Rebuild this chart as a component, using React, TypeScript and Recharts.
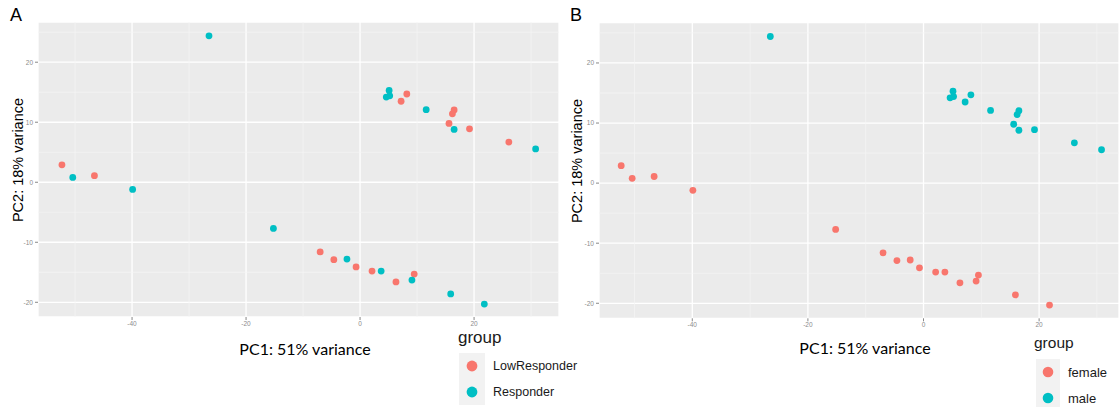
import React from 'react';
import { ScatterChart, Scatter, XAxis, YAxis, CartesianGrid, ReferenceLine } from 'recharts';

// PCA coordinates per sample
const pc1 = [-26.5, -52.3, -50.4, -46.6, -39.9, -15.2, -7.0, -4.6, -2.3, -0.7, 2.1, 3.7, 6.3, 9.1, 9.5, 15.9, 21.8, 5.1, 5.2, 4.6, 8.2, 7.2, 11.6, 16.5, 16.2, 15.6, 16.5, 19.2, 26.1, 30.8];
const pc2 = [24.4, 2.9, 0.8, 1.1, -1.2, -7.7, -11.6, -12.9, -12.8, -14.1, -14.8, -14.8, -16.6, -16.3, -15.3, -18.6, -20.3, 15.3, 14.4, 14.2, 14.7, 13.5, 12.1, 12.05, 11.4, 9.8, 8.8, 8.9, 6.7, 5.55];
const response = ['Responder', 'LowResponder', 'Responder', 'LowResponder', 'Responder', 'Responder', 'LowResponder', 'LowResponder', 'Responder', 'LowResponder', 'LowResponder', 'Responder', 'LowResponder', 'Responder', 'LowResponder', 'Responder', 'Responder', 'Responder', 'Responder', 'Responder', 'LowResponder', 'LowResponder', 'Responder', 'LowResponder', 'LowResponder', 'LowResponder', 'Responder', 'LowResponder', 'LowResponder', 'Responder'];
const sex = ['male', 'female', 'female', 'female', 'female', 'female', 'female', 'female', 'female', 'female', 'female', 'female', 'female', 'female', 'female', 'female', 'female', 'male', 'male', 'male', 'male', 'male', 'male', 'male', 'male', 'male', 'male', 'male', 'male', 'male'];

const responseLevels = ['LowResponder', 'Responder'];
const sexLevels = ['female', 'male'];
const groupColors = ['#F8766D', '#00BFC4'];

const xTicks = [-40, -20, 0, 20];
const yTicks = [-20, -10, 0, 10, 20];
const xMinor = [-50, -30, -10, 10, 30];
const yMinor = [-15, -5, 5, 15, 25];

const xLabel = 'PC1: 51% variance';
const yLabel = 'PC2: 18% variance';
const legendTitle = 'group';
const panelLetters = ['A', 'B'];

const tickStyle = { fontSize: 6.5, fill: '#8C8C8C', fontFamily: '"Liberation Sans", Arial, sans-serif' };

type PanelProps = {
  left: number;
  width: number;
  margin: { top: number; right: number; bottom: number; left: number };
  xDomain: [number, number];
  yDomain: [number, number];
  groups: string[];
  levels: string[];
};

function Panel({ left, width, margin, xDomain, yDomain, groups, levels }: PanelProps) {
  const series = levels.map((lv, i) => ({
    name: lv,
    color: groupColors[i],
    data: pc1.map((x, k) => ({ x, y: pc2[k], g: groups[k] })).filter((d) => d.g === lv),
  }));
  return (
    <div style={{ position: 'absolute', left, top: 0 }}>
      <ScatterChart width={width} height={407} margin={margin}>
        <CartesianGrid stroke="#FFFFFF" strokeWidth={1.3} fill="#EBEBEB" fillOpacity={1} />
        {xMinor.map((v) => (
          <ReferenceLine key={'xm' + v} x={v} stroke="#F5F5F5" strokeWidth={0.7} />
        ))}
        {yMinor.map((v) => (
          <ReferenceLine key={'ym' + v} y={v} stroke="#F5F5F5" strokeWidth={0.7} />
        ))}
        <XAxis
          type="number"
          dataKey="x"
          domain={xDomain}
          ticks={xTicks}
          allowDataOverflow
          axisLine={false}
          tickSize={3}
          tickMargin={1}
          height={20}
          tickLine={{ stroke: '#555', strokeWidth: 0.7 }}
          tick={tickStyle}
        />
        <YAxis
          type="number"
          dataKey="y"
          domain={yDomain}
          ticks={yTicks}
          allowDataOverflow
          axisLine={false}
          tickSize={3}
          tickMargin={2}
          width={38}
          tickLine={{ stroke: '#555', strokeWidth: 0.7 }}
          tick={tickStyle}
        />
        {series.map((s) => (
          <Scatter
            key={s.name}
            name={s.name}
            data={s.data}
            fill={s.color}
            isAnimationActive={false}
            shape={(p: any) => <circle cx={p.cx} cy={p.cy} r={3.4} fill={s.color} />}
          />
        ))}
      </ScatterChart>
    </div>
  );
}

const arial = '"Liberation Sans", Arial, sans-serif';
const calib = 'Lato, "Open Sans", sans-serif';

export default function App() {
  return (
    <div style={{ position: 'absolute', left: 0, top: 0, width: 1119, height: 407, background: '#fff', overflow: 'hidden' }}>
      <style>{'body{margin:0}'}</style>
      <Panel
        left={0}
        width={560}
        margin={{ top: 22, right: 1, bottom: 70, left: 0 }}
        xDomain={[-56.5, 34.9]}
        yDomain={[-22.45, 26.7]}
        groups={response}
        levels={responseLevels}
      />
      <Panel
        left={561}
        width={558}
        margin={{ top: 22.7, right: 0, bottom: 68.7, left: 0 }}
        xDomain={[-56.14, 33.82]}
        yDomain={[-22.5, 26.7]}
        groups={sex}
        levels={sexLevels}
      />
      <svg width={1119} height={407} style={{ position: 'absolute', left: 0, top: 0, pointerEvents: 'none' }}>
        <text x={10} y={21} fontSize={18} fontFamily={arial} fill="#000">{panelLetters[0]}</text>
        <text x={570} y={21} fontSize={18} fontFamily={arial} fill="#000">{panelLetters[1]}</text>

        <text x={17.5} y={160} fontSize={14.5} fontFamily={arial} fill="#000" textAnchor="middle" dominantBaseline="central" transform="rotate(-90 17.5 160)">{yLabel}</text>
        <text x={577} y={161} fontSize={14.5} fontFamily={arial} fill="#000" textAnchor="middle" dominantBaseline="central" transform="rotate(-90 577 161)">{yLabel}</text>

        <text x={305} y={348} fontSize={16} fontFamily={calib} fill="#000" textAnchor="middle" dominantBaseline="central">{xLabel}</text>
        <text x={865} y={347} fontSize={16} fontFamily={calib} fill="#000" textAnchor="middle" dominantBaseline="central">{xLabel}</text>

        {/* Legend A */}
        <text x={458} y={343} fontSize={17} fontFamily={arial} fill="#1a1a1a">{legendTitle}</text>
        {responseLevels.map((lv, i) => (
          <g key={lv}>
            <rect x={459} y={353 + i * 26} width={26} height={26} fill="#F2F2F2" />
            <circle cx={472} cy={366 + i * 26} r={5.4} fill={groupColors[i]} />
            <text x={493} y={366 + i * 26} fontSize={12.5} fontFamily={arial} fill="#1a1a1a" dominantBaseline="central">{lv}</text>
          </g>
        ))}

        {/* Legend B */}
        <text x={1034} y={348} fontSize={15.5} fontFamily={arial} fill="#1a1a1a">{legendTitle}</text>
        {sexLevels.map((lv, i) => (
          <g key={lv}>
            <rect x={1036} y={359 + i * 26} width={24} height={26} fill="#F2F2F2" />
            <circle cx={1048} cy={372 + i * 26} r={5.3} fill={groupColors[i]} />
            <text x={1068} y={372 + i * 26} fontSize={13} fontFamily={arial} fill="#1a1a1a" dominantBaseline="central">{lv}</text>
          </g>
        ))}
      </svg>
    </div>
  );
}
